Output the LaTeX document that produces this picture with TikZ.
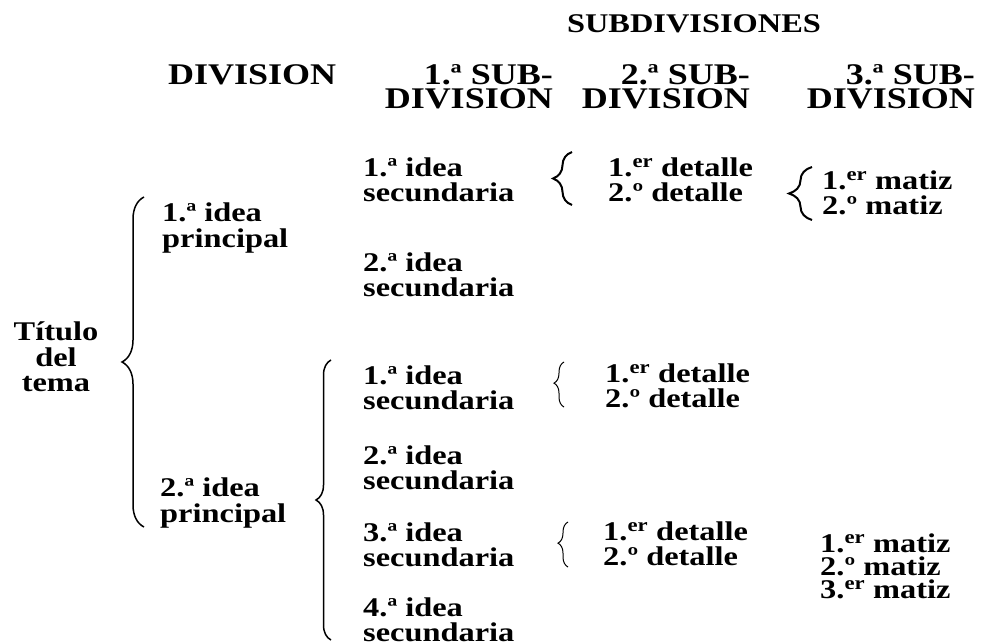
\documentclass[tikz,border=0pt]{standalone}
\usepackage{fontspec}
\setmainfont{Liberation Serif}[FakeStretch=1.2]
\usetikzlibrary{decorations.pathreplacing}
\newcommand{\er}{\textsuperscript{er}}
\begin{document}
\begin{tikzpicture}[x=1pt,y=-1pt,
  txt/.style={font=\bfseries\fontsize{27}{25.5}\selectfont, inner sep=0pt, align=left, anchor=west},
  hd/.style={font=\bfseries\fontsize{30}{23.5}\selectfont, inner sep=0pt, align=right},
  bracebig/.style={decorate, decoration={brace, amplitude=#1}, line width=1.5pt},
  bracesmall/.style={decorate, decoration={brace, amplitude=#1}, line width=2pt},
  bracethin/.style={decorate, decoration={brace, amplitude=#1, aspect=0.53}, line width=1pt}]
\useasboundingbox (0,0) rectangle (993,644);
% headings
\node[hd, anchor=center, font=\bfseries\fontsize{27}{23}\selectfont] (subdiv) at (694,24) {SUBDIVISIONES};
\node[hd, anchor=west] (div) at (168,75) {DIVISION};
\node[hd, anchor=east] (h1) at (553,87) {1.ª SUB-\\DIVISION};
\node[hd, anchor=east] (h2) at (750,87) {2.ª SUB-\\DIVISION};
\node[hd, anchor=east] (h3) at (975,87) {3.ª SUB-\\DIVISION};
% division
\node[txt, anchor=center, align=center] (tit) at (56,357) {Título\\del\\tema};
\node[txt] (p1) at (162,228) {1.ª idea\\principal};
\node[txt] (p2) at (160,503) {2.ª idea\\principal};
% secondary ideas
\node[txt] (s1) at (363,180) {1.ª idea\\secundaria};
\node[txt] (s2) at (363,275) {2.ª idea\\secundaria};
\node[txt] (s3) at (363,388) {1.ª idea\\secundaria};
\node[txt] (s4) at (363,468) {2.ª idea\\secundaria};
\node[txt] (s5) at (363,545) {3.ª idea\\secundaria};
\node[txt] (s6) at (363,620) {4.ª idea\\secundaria};
% details
\node[txt] (d1) at (608,180) {1.\er{} detalle\\2.º detalle};
\node[txt] (d2) at (605,386) {1.\er{} detalle\\2.º detalle};
\node[txt] (d3) at (603,544) {1.\er{} detalle\\2.º detalle};
% nuances
\node[txt] (m1) at (822,193) {1.\er{} matiz\\2.º matiz};
\node[txt, font=\bfseries\fontsize{27}{23}\selectfont] (m2) at (820,566) {1.\er{} matiz\\2.º matiz\\3.\er{} matiz};
% brace end points
\coordinate (b1s) at (144,527); \coordinate (b1e) at (144,197);
\coordinate (b2s) at (331,640); \coordinate (b2e) at (331,360);
\coordinate (b3s) at (572,205); \coordinate (b3e) at (572,152);
\coordinate (b4s) at (812,220); \coordinate (b4e) at (812,167);
\coordinate (b5s) at (564,407); \coordinate (b5e) at (564,362);
\coordinate (b6s) at (568,567); \coordinate (b6e) at (568,522);
\draw[bracebig=22] (b1s) -- (b1e);
\draw[bracebig=15] (b2s) -- (b2e);
\draw[bracesmall=19] (b3s) -- (b3e);
\draw[bracesmall=23] (b4s) -- (b4e);
\draw[bracethin=10] (b5s) -- (b5e);
\draw[bracethin=10] (b6s) -- (b6e);
\end{tikzpicture}
\end{document}
